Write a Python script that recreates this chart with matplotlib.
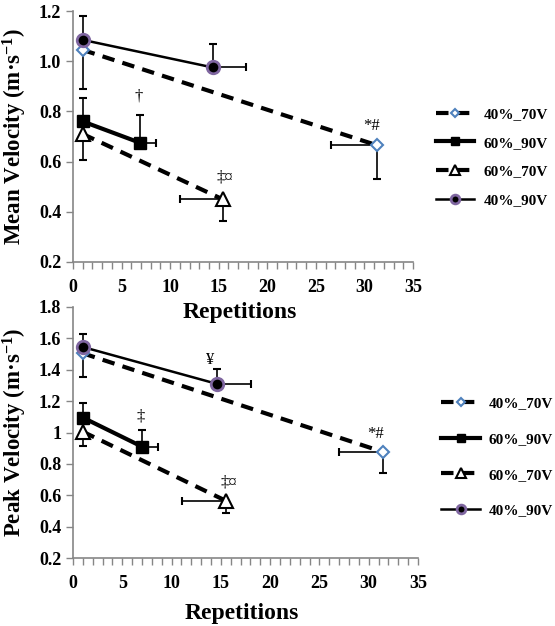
#!/usr/bin/env python3
"""Mean and peak velocity against repetitions for four load/velocity-loss conditions."""

import matplotlib
matplotlib.use('Agg')
import matplotlib.pyplot as plt
from matplotlib.ticker import MultipleLocator, FormatStrFormatter

plt.rcParams['font.family'] = ['Liberation Serif', 'DejaVu Serif']
plt.rcParams['mathtext.fontset'] = 'custom'
plt.rcParams['mathtext.rm'] = 'Liberation Serif:bold'
plt.rcParams['mathtext.bf'] = 'Liberation Serif:bold'
plt.rcParams['mathtext.it'] = 'Liberation Serif:italic:bold'

# ---- data ----
labels = ['40%_70V', '60%_90V', '60%_70V', '40%_90V']

# repetitions (x) for the two points of each condition
reps = {
    '40%_70V': [1.0, 31.3],
    '60%_90V': [1.0, 6.9],
    '60%_70V': [1.0, 15.4],
    '40%_90V': [1.0, 14.4],
}
reps_peak = {
    '40%_70V': [1.0, 31.5],
    '60%_90V': [1.0, 7.0],
    '60%_70V': [1.0, 15.5],
    '40%_90V': [1.0, 14.6],
}
# one-sided SD on repetitions: (lower, upper)
reps_err = {
    '40%_70V': ([0, 4.7], [0, 0]),
    '60%_90V': ([0, 0], [0, 1.6]),
    '60%_70V': ([0, 4.4], [0, 0]),
    '40%_90V': ([0, 0], [0, 3.4]),
}
reps_err_peak = {
    '40%_70V': ([0, 4.5], [0, 0]),
    '60%_90V': ([0, 0], [0, 1.6]),
    '60%_70V': ([0, 4.4], [0, 0]),
    '40%_90V': ([0, 0], [0, 3.5]),
}

mean_vel = {
    '40%_70V': [1.045, 0.665],
    '60%_90V': [0.760, 0.675],
    '60%_70V': [0.710, 0.450],
    '40%_90V': [1.085, 0.975],
}
mean_err = {
    '40%_70V': ([0.155, 0.135], [0, 0]),
    '60%_90V': ([0, 0], [0.095, 0.110]),
    '60%_70V': ([0.105, 0.085], [0, 0]),
    '40%_90V': ([0, 0], [0.095, 0.095]),
}

peak_vel = {
    '40%_70V': [1.505, 0.875],
    '60%_90V': [1.095, 0.910],
    '60%_70V': [1.005, 0.565],
    '40%_90V': [1.545, 1.310],
}
peak_err = {
    '40%_70V': ([0.150, 0.135], [0, 0]),
    '60%_90V': ([0, 0], [0.095, 0.105]),
    '60%_70V': ([0.090, 0.075], [0, 0]),
    '40%_90V': ([0, 0], [0.085, 0.095]),
}

# significance marks: (text, x, y)
mean_marks = [('\u2020', 6.8, 0.86), ('\u2021\u00a4', 15.6, 0.535), ('*#', 30.7, 0.74)]
peak_marks = [('\u00a5', 13.9, 1.46), ('\u2021', 6.9, 1.10), ('\u2021\u00a4', 15.8, 0.68),
              ('*#', 30.7, 0.99)]

# ---- styles ----
styles = {
    '40%_70V': dict(color='black', lw=3.0, ls=(0, (3.0, 2.0)), marker='D', ms=6,
                    mfc='white', mec='#4f81bd', mew=1.5),
    '60%_90V': dict(color='black', lw=3.0, ls='-', marker='s', ms=9,
                    mfc='black', mec='black', mew=1.0),
    '60%_70V': dict(color='black', lw=3.0, ls=(0, (3.0, 2.0)), marker='^', ms=10,
                    mfc='white', mec='black', mew=1.5),
    '40%_90V': dict(color='black', lw=1.8, ls='-', marker='o', ms=9,
                    mfc='black', mec='#7f66a0', mew=2.0),
}

grey = '#868686'


def draw_panel(ax, xs, xerrs, ys, yerrs, marks, ylim, yfmt, ylabel, legend_y, spacing, xlab_y):
    for lab in labels:
        st = styles[lab]
        ax.errorbar(xs[lab], ys[lab], yerr=[yerrs[lab][0], yerrs[lab][1]],
                    xerr=[xerrs[lab][0], xerrs[lab][1]], fmt='none',
                    ecolor='black', elinewidth=1.2, capsize=3, capthick=1.5, zorder=2)
        ax.plot(xs[lab], ys[lab], label=lab, zorder=3, **st)
    for txt, x, y in marks:
        ax.text(x, y, txt, fontsize=12, ha='center', va='center', family='Liberation Serif')

    ax.set_xlim(0, 35)
    ax.set_ylim(*ylim)
    ax.xaxis.set_major_locator(MultipleLocator(5))
    ax.xaxis.set_minor_locator(MultipleLocator(1))
    ax.yaxis.set_major_locator(MultipleLocator(0.2))
    if yfmt:
        ax.yaxis.set_major_formatter(FormatStrFormatter(yfmt))
    else:
        # Excel "General" format: 1 instead of 1.0
        ax.yaxis.set_major_formatter(plt.FuncFormatter(lambda v, p: ('%.1f' % v).rstrip('0').rstrip('.')))

    for side in ('top', 'right'):
        ax.spines[side].set_visible(False)
    for side in ('left', 'bottom'):
        ax.spines[side].set_color(grey)
        ax.spines[side].set_linewidth(1.2)
    ax.tick_params(axis='both', which='both', direction='out', color=grey, width=1.0)
    ax.tick_params(axis='both', which='major', length=5, labelsize=13)
    ax.tick_params(axis='x', which='minor', length=5)
    ax.tick_params(axis='x', which='major', pad=7)
    for t in ax.get_xticklabels() + ax.get_yticklabels():
        t.set_fontweight('bold')

    ax.set_xlabel('Repetitions', fontsize=17, fontweight='bold')
    ax.xaxis.set_label_coords(0.49, xlab_y)
    ax.set_ylabel(ylabel, fontsize=16.5, fontweight='bold')
    ax.yaxis.set_label_coords(-0.128, 0.5)
    ax.patch.set_alpha(0)

    ax.legend(loc='upper left', bbox_to_anchor=(1.068, legend_y), frameon=False,
              borderpad=0, borderaxespad=0, markerscale=0.7,
              handlelength=2.5, handletextpad=0.6, labelspacing=spacing,
              prop={'family': 'Liberation Serif', 'weight': 'bold', 'size': 11})


fig = plt.figure(figsize=(5.55, 6.26), dpi=100)
ax1 = fig.add_axes([0.1315, 0.5815, 0.6126, 0.4009])
ax2 = fig.add_axes([0.1315, 0.1086, 0.6216, 0.4010])

draw_panel(ax1, reps, reps_err, mean_vel, mean_err, mean_marks, (0.2, 1.2), '%.1f',
           'Mean Velocity (m\u00b7s$^{\\mathregular{-1}}$)', 0.616, 0.98, -0.16)
draw_panel(ax2, reps_peak, reps_err_peak, peak_vel, peak_err, peak_marks, (0.2, 1.8), None,
           'Peak Velocity (m\u00b7s$^{\\mathregular{-1}}$)', 0.644, 1.45, -0.18)

fig.savefig('out.png', dpi=100)
